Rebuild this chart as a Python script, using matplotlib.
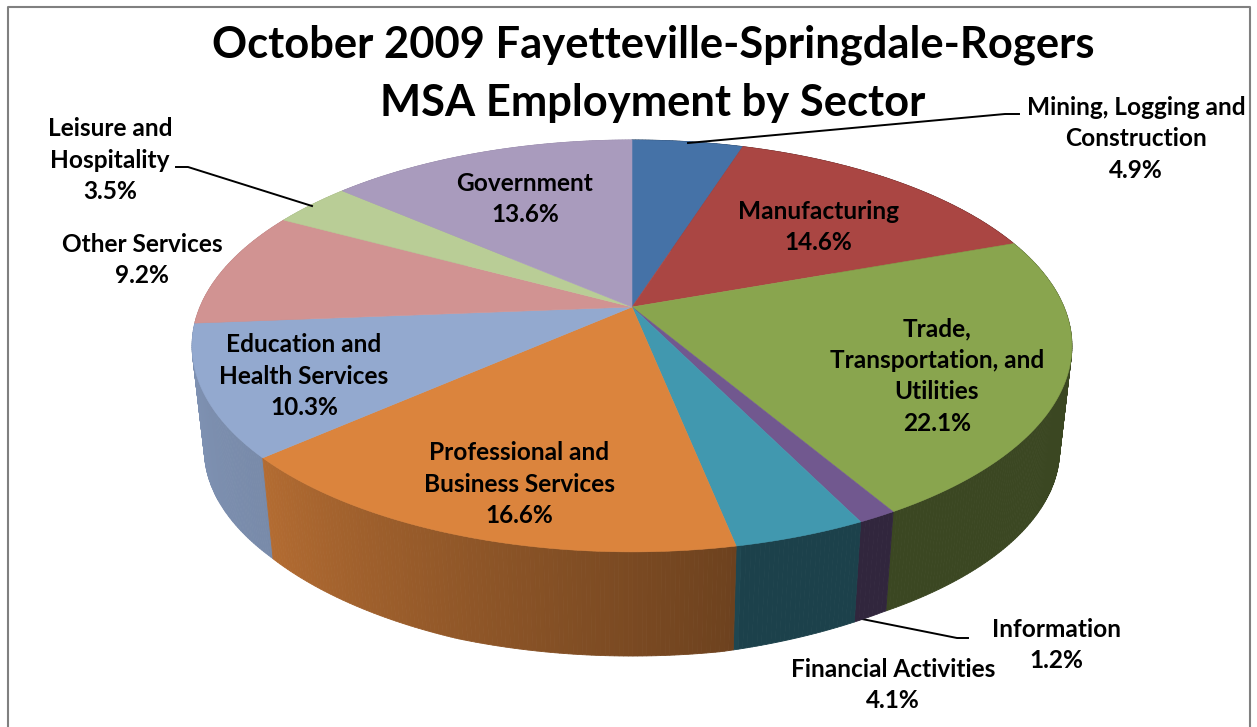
import numpy as np
import matplotlib
matplotlib.use('Agg')
import matplotlib.pyplot as plt
from matplotlib.patches import Polygon
from matplotlib.colors import to_rgb

# Sector shares, clockwise from 12 o'clock
sectors = ['Mining, Logging and\nConstruction', 'Manufacturing',
           'Trade,\nTransportation, and\nUtilities', 'Information',
           'Financial Activities', 'Professional and\nBusiness Services',
           'Education and\nHealth Services', 'Other Services',
           'Leisure and\nHospitality', 'Government']
shares = [4.9, 14.6, 22.1, 1.2, 4.1, 16.6, 10.3, 9.2, 3.5, 13.6]
colors = ['#4572a7', '#aa4643', '#89a54e', '#71588f', '#4198af',
          '#db843d', '#93a9cf', '#d19392', '#b9cd96', '#a99bbd']
title_lines = ['October 2009 Fayetteville-Springdale-Rogers', 'MSA Employment by Sector']

# label centres in pixels
label_pos = [(1136, 139), (818, 227), (937, 376), (1056, 645), (893, 685),
             (519, 484), (304, 376), (142, 260), (110, 160), (525, 199)]

plt.rcParams['font.family'] = ['Lato', 'DejaVu Sans']
plt.rcParams['font.weight'] = 'bold'

# pie geometry (pixels), a circle seen in perspective
cx, cy = 632, 307
a, b, k = 432, 198.6, 0.189
shrink = 0.972


def rim(theta):
    # theta in degrees, clockwise from the top
    t = np.radians(theta)
    w = 1 + k * np.cos(t)
    return a * np.sin(t) / w, b * np.cos(t) / w


def side_shade(theta):
    return np.interp(theta, [0, 168, 169, 229, 266, 360],
                     [0.43, 0.43, 0.5, 0.82, 0.88, 0.88])


def side_depth(theta):
    # the near edge of the pie looks a bit thicker
    return np.interp(theta, [0, 150, 170, 200, 229, 360],
                     [105, 105, 111, 111, 105, 105])


fig = plt.figure(figsize=(12.57, 7.27), dpi=100)
ax = fig.add_axes([0, 0, 1, 1])
ax.set_xlim(0, 1257)
ax.set_ylim(727, 0)
ax.axis('off')

edges = np.cumsum([0] + shares) / sum(shares) * 360

# sides first, made of narrow strips so the shading can change around the rim
strips = []
for i, col in enumerate(colors):
    th = np.linspace(edges[i], edges[i + 1], max(int(edges[i + 1] - edges[i]) * 2, 3))
    for t0, t1 in zip(th[:-1], th[1:]):
        strips.append((np.cos(np.radians((t0 + t1) / 2)), t0, t1, col))
strips.sort(key=lambda s: -s[0])
for _, t0, t1, col in strips:
    x0, y0 = rim(t0)
    x1, y1 = rim(t1)
    face = np.array(to_rgb(col)) * side_shade((t0 + t1) / 2)
    quad = [(cx + x0, cy - y0), (cx + x1, cy - y1),
            (cx + x1 * shrink, cy - y1 * shrink + side_depth(t1)),
            (cx + x0 * shrink, cy - y0 * shrink + side_depth(t0))]
    ax.add_patch(Polygon(quad, closed=True, fc=face, ec=face, lw=0.6, zorder=1))

# top face
for i, col in enumerate(colors):
    th = np.linspace(edges[i], edges[i + 1], 80)
    x, y = rim(th)
    pts = [(cx, cy)] + list(zip(cx + x, cy - y))
    ax.add_patch(Polygon(pts, closed=True, fc=col, ec=col, lw=0.4, zorder=2))

# leader lines
ax.plot([688, 1005, 1019], [143, 114, 114], color='black', lw=1.4, zorder=3)
ax.plot([176, 188, 312], [167, 167, 206], color='black', lw=1.4, zorder=3)
ax.plot([857, 957, 968], [618, 638, 638], color='black', lw=1.4, zorder=0.5)

# labels
for name, val, (lx, ly) in zip(sectors, shares, label_pos):
    ax.text(lx, ly, f'{name}\n{val:.1f}%', ha='center', va='center', fontsize=17.6,
            linespacing=1.45, color='black', zorder=4)

ax.text(653, 45, title_lines[0], ha='center', va='center', fontsize=31.3, zorder=4)
ax.text(653, 103, title_lines[1], ha='center', va='center', fontsize=31.3, zorder=4)

# chart frame, open at the bottom of the crop
ax.plot([8, 8, 1250, 1250], [727, 6.5, 6.5, 727], color='#808080', lw=1.5, zorder=5)

fig.savefig('out.png', dpi=100, facecolor='white')
